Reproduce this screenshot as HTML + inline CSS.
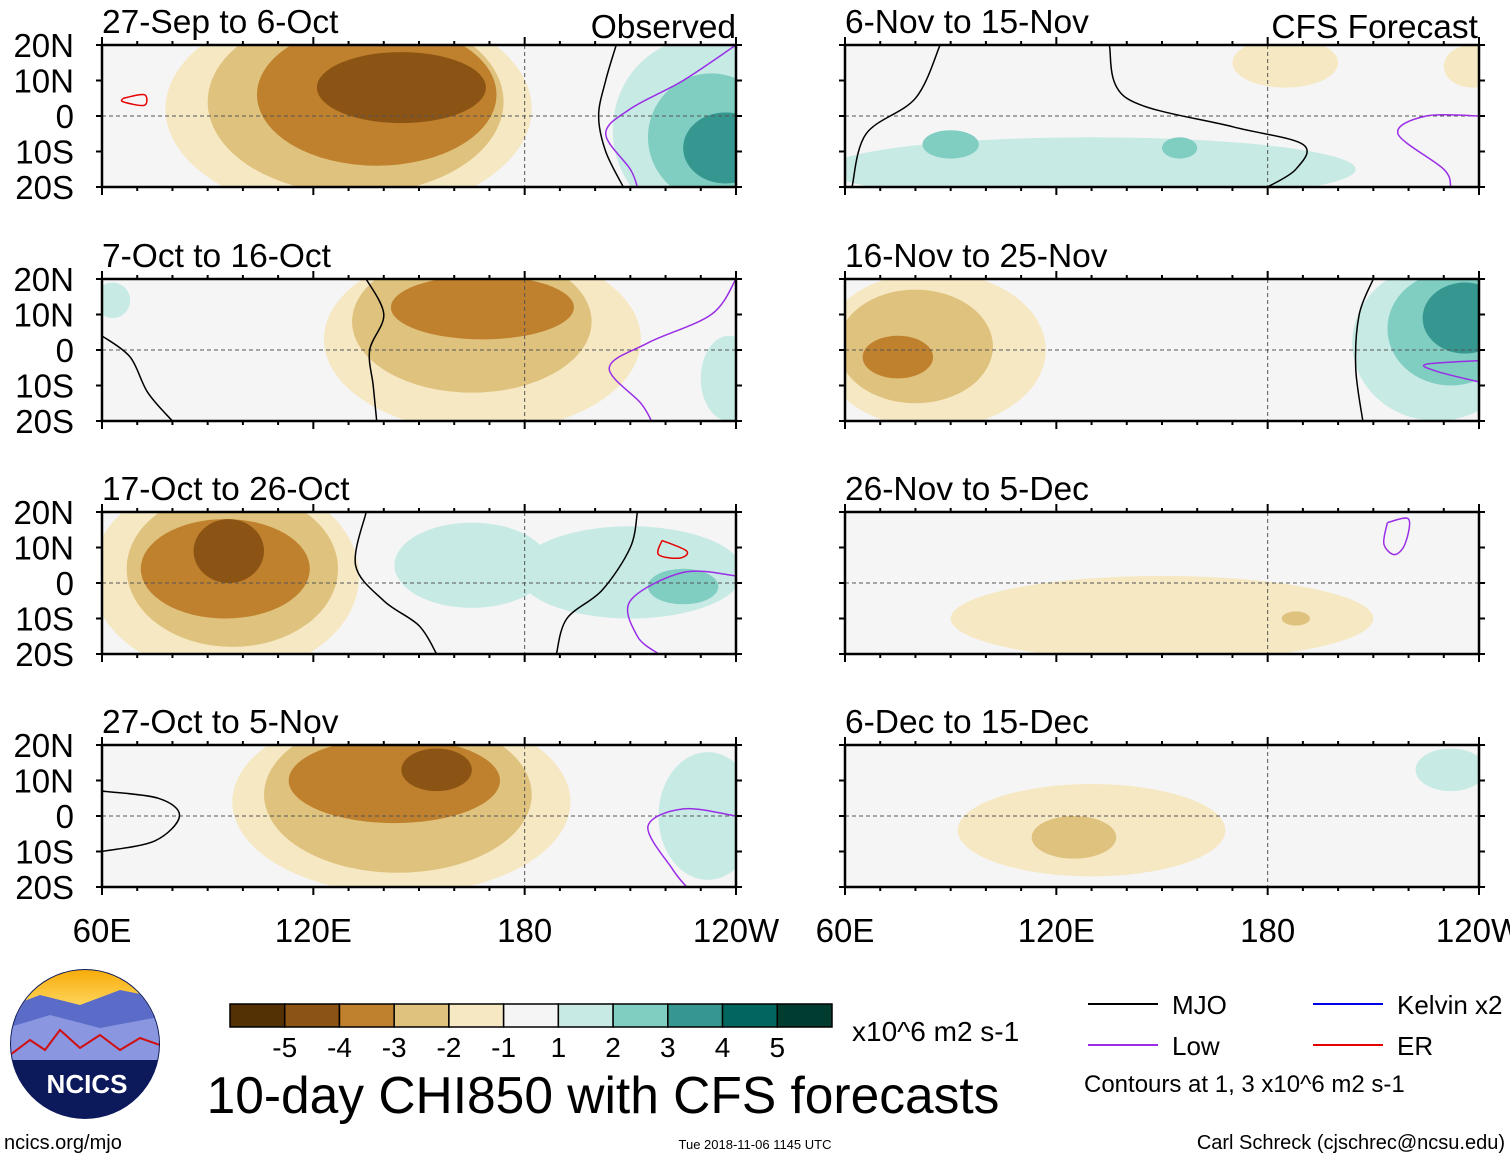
<!DOCTYPE html>
<html><head><meta charset="utf-8"><style>
body{margin:0;background:#fff;}
svg{display:block;font-family:"Liberation Sans",sans-serif;}
</style></head><body>
<svg id="c" width="1510" height="1159" viewBox="0 0 1510 1159" xmlns="http://www.w3.org/2000/svg"></svg>
<script>
const NS="http://www.w3.org/2000/svg";
const levelColors=["#543005","#8c5414","#bf812d","#dfc27d","#f6e8c3","#f5f5f5","#c7eae5","#80cdc1","#35978f","#01665e","#003c30"];
const colorbarLabels=["-5","-4","-3","-2","-1","1","2","3","4","5"];
const lonTicks=["60E","120E","180","120W"];
const latTicks=["20N","10N","0","10S","20S"];
const panelTitles=["27-Sep to 6-Oct","7-Oct to 16-Oct","17-Oct to 26-Oct","27-Oct to 5-Nov","6-Nov to 15-Nov","16-Nov to 25-Nov","26-Nov to 5-Dec","6-Dec to 15-Dec"];
// blobs: [lon, lat, rxDeg, ryDeg, level(-5..5)]
const panelBlobs=[
 [[130,2,52,30,-1],[132,4,42,26,-2],[138,6,34,20,-3],[145,8,24,10,-4],[230,-4,25,26,1],[233,-6,18,18,2],[237,-9,12,10,3]],
 [[168,3,45,26,-1],[165,8,34,20,-2],[168,12,26,9,-3],[63,14,5,5,1],[238,-8,8,12,1]],
 [[95,2,38,28,-1],[97,4,30,22,-2],[95,4,24,14,-3],[96,9,10,9,-4],[165,5,22,12,1],[210,3,32,13,1],[225,-1,10,5,2]],
 [[145,4,48,26,-1],[144,6,38,22,-2],[143,10,30,12,-3],[155,13,10,6,-4],[232,0,14,18,1]],
 [[130,-15,75,9,1],[90,-8,8,4,2],[155,-9,5,3,2],[185,15,15,7,-1],[238,14,8,6,-1]],
 [[85,0,32,22,-1],[80,1,22,16,-2],[75,-2,10,6,-3],[228,2,24,22,1],[232,6,18,16,2],[236,9,12,10,3]],
 [[150,-10,60,12,-1],[188,-10,4,2,-2]],
 [[130,-4,38,13,-1],[125,-6,12,6,-2],[232,13,10,6,1]]
];
// contours: [type, [[lon,lat],...]]
const panelContours=[
 [["mjo",[[206,20],[203,10],[201,0],[203,-10],[208,-20]]],["low",[[240,20],[225,10],[210,2],[203,-5],[210,-15],[212,-20]]],["er",[[66,5],[72,6],[72,3],[66,4],[66,5]]]],
 [["mjo",[[135,20],[140,10],[136,0],[137,-10],[138,-20]]],["low",[[240,20],[233,10],[215,2],[204,-5],[213,-15],[216,-20]]],["mjo",[[60,4],[68,-2],[73,-12],[80,-20]]]],
 [["mjo",[[135,20],[132,5],[140,-5],[150,-12],[155,-20]]],["mjo",[[189,-20],[192,-10],[202,-2],[210,10],[212,20]]],["low",[[240,2],[225,3],[210,-5],[212,-15],[218,-20]]],["er",[[219,12],[226,9],[224,7],[218,8],[219,12]]]],
 [["mjo",[[60,-10],[75,-7],[82,0],[76,5],[60,7]]],["low",[[240,0],[225,2],[215,-3],[222,-15],[226,-20]]]],
 [["mjo",[[87,20],[80,5],[66,-5],[62,-20]]],["mjo",[[135,20],[140,5],[170,-3],[190,-8],[188,-15],[180,-20]]],["low",[[240,0],[225,0],[217,-5],[230,-15],[232,-20]]]],
 [["mjo",[[210,20],[206,10],[205,-5],[207,-20]]],["low",[[240,-9],[228,-6],[225,-4],[240,-3]]]],
 [["low",[[214,17],[220,18],[219,11],[216,8],[213,11],[214,17]]]],
 []
];
const svg=document.getElementById('c');
function el(tag,attrs,parent){const e=document.createElementNS(NS,tag);for(const k in attrs)e.setAttribute(k,attrs[k]);(parent||svg).appendChild(e);return e;}
const lefts=[102,845],tops=[45,279,512,745],PW=634,PH=142;
function xScale(px,lon){return px+(lon-60)*PW/180;}
function yScale(py,lat){return py+(20-lat)*PH/40;}
function smooth(pts){
  let d='M'+pts[0][0].toFixed(1)+','+pts[0][1].toFixed(1);
  for(let i=0;i<pts.length-1;i++){
    const p0=pts[Math.max(0,i-1)],p1=pts[i],p2=pts[i+1],p3=pts[Math.min(pts.length-1,i+2)];
    const c1=[p1[0]+(p2[0]-p0[0])/6,p1[1]+(p2[1]-p0[1])/6],c2=[p2[0]-(p3[0]-p1[0])/6,p2[1]-(p3[1]-p1[1])/6];
    d+='C'+c1.map(v=>v.toFixed(1)).join(',')+' '+c2.map(v=>v.toFixed(1)).join(',')+' '+p2[0].toFixed(1)+','+p2[1].toFixed(1);
  }
  return d;
}
const defs=el('defs',{});
const contourColor={mjo:"#000",low:"#9a2ee6",er:"#e60000",kelvin:"#0000e6"};
for(let p=0;p<8;p++){
  const col=p<4?0:1,row=p%4,px=lefts[col],py=tops[row];
  const cp=el('clipPath',{id:'cp'+p},defs);el('rect',{x:px,y:py,width:PW,height:PH},cp);
  const g=el('g',{'clip-path':'url(#cp'+p+')'});
  
  
  el('rect',{x:px,y:py,width:PW,height:PH,fill:"#f5f5f5"},g);
  panelBlobs[p].forEach(b=>{
    const idx=5+b[4];
    const e=el('ellipse',{cx:xScale(px,b[0]),cy:yScale(py,b[1]),rx:b[2]*PW/180,ry:b[3]*PH/40,fill:levelColors[idx]},g);
    
    
  });
  el('line',{x1:px,x2:px+PW,y1:yScale(py,0),y2:yScale(py,0),stroke:"#555","stroke-dasharray":"4,3","stroke-width":1},g);
  el('line',{x1:xScale(px,180),x2:xScale(px,180),y1:py,y2:py+PH,stroke:"#555","stroke-dasharray":"4,3","stroke-width":1},g);
  panelContours[p].forEach(c=>{
    const pts=c[1].map(q=>[xScale(px,q[0]),yScale(py,q[1])]);
    const pa=el('path',{d:smooth(pts),fill:"none",stroke:contourColor[c[0]],"stroke-width":1.5},g);
    
    
  });
  el('rect',{x:px,y:py,width:PW,height:PH,fill:"none",stroke:"#000","stroke-width":2.5});
  for(let lon=60;lon<=240;lon+=10){const x=xScale(px,lon);const L=(lon%60==0)?8:4;
    el('line',{x1:x,x2:x,y1:py,y2:py-L,stroke:"#000","stroke-width":2});
    el('line',{x1:x,x2:x,y1:py+PH,y2:py+PH+L,stroke:"#000","stroke-width":2});}
  for(let lat=-20;lat<=20;lat+=10){const y=yScale(py,lat);
    el('line',{x1:px-6,x2:px,y1:y,y2:y,stroke:"#000","stroke-width":2});
    el('line',{x1:px+PW,x2:px+PW+6,y1:y,y2:y,stroke:"#000","stroke-width":2});}
  const t=el('text',{x:px,y:py-12,'font-size':33.5,fill:"#000"});t.textContent=panelTitles[p];
  
  
  if(col==0){latTicks.forEach((s,i)=>{const tt=el('text',{x:74,y:py+i*PH/4+12,'font-size':33,'text-anchor':'end'});tt.textContent=s;
    
    });}
  if(row==3){lonTicks.forEach((s,i)=>{const tt=el('text',{x:px+i*PW/3,y:942,'font-size':33,'text-anchor':'middle'});tt.textContent=s;
    
    });}
}
function txt(x,y,s,size,name,anchor,extra){const t=el('text',Object.assign({x:x,y:y,'font-size':size,'text-anchor':anchor||'start'},extra||{}));t.textContent=s;return t;}
txt(736,38,"Observed",33.5,"observed-label","end");
txt(1478,38,"CFS Forecast",33.5,"forecast-label","end");
const cbw=(832-230)/11;
levelColors.forEach((c,i)=>{const r=el('rect',{x:230+i*cbw,y:1004,width:cbw,height:23,fill:c,stroke:"#000","stroke-width":1.5});
  
  });
colorbarLabels.forEach((s,i)=>txt(230+(i+1)*cbw,1057,s,28,"colorbar-label","middle"));
txt(852,1041,"x10^6 m2 s-1",28,"colorbar-units");
txt(603,1113,"10-day CHI850 with CFS forecasts",51.5,"chart-title","middle");
[["MJO","#000",1088,1004],["Low","#9a2ee6",1088,1045],["Kelvin x2","#0000e6",1313,1004],["ER","#e60000",1313,1045]].forEach(l=>{
  el('line',{x1:l[2],x2:l[2]+70,y1:l[3],y2:l[3],stroke:l[1],"stroke-width":2});
  txt(l[2]+84,l[3]+10,l[0],26,"legend-entry");
});
txt(1084,1092,"Contours at 1, 3 x10^6 m2 s-1",24,"contour-note");
txt(4,1149,"ncics.org/mjo",20,"url-label");
txt(755,1149,"Tue 2018-11-06 1145 UTC",13,"timestamp","middle");
txt(1505,1149,"Carl Schreck (cjschrec@ncsu.edu)",20,"author-label","end");
const lg=el('g',{});
const gr=el('linearGradient',{id:'sky',x1:0,y1:0,x2:0,y2:1},defs);
el('stop',{offset:'0','stop-color':'#f7a600'},gr);el('stop',{offset:'1','stop-color':'#ffe070'},gr);
const lc=el('clipPath',{id:'logoclip'},defs);el('circle',{cx:85,cy:1044,r:74},lc);
el('circle',{cx:85,cy:1044,r:75,fill:'#0c1a5c'},lg);
const lgi=el('g',{'clip-path':'url(#logoclip)'},lg);
el('rect',{x:0,y:965,width:170,height:50,fill:'url(#sky)'},lgi);
el('path',{d:'M0,1010 L40,995 L80,1005 L120,990 L170,1000 L170,1040 L0,1040Z',fill:'#5a6cc8'},lgi);
el('path',{d:'M0,1030 L50,1015 L100,1028 L170,1015 L170,1060 L0,1060Z',fill:'#8a96e0'},lgi);
el('path',{d:'M10,1055 L30,1040 L45,1050 L60,1030 L80,1048 L100,1035 L120,1050 L140,1038 L160,1045',fill:'none',stroke:'#d01010','stroke-width':2},lgi);
el('rect',{x:0,y:1060,width:170,height:60,fill:'#0c1a5c'},lgi);
txt(87,1093,"NCICS",26,"logo-text","middle",{fill:'#fff','font-weight':'bold'});
</script>
</body></html>
